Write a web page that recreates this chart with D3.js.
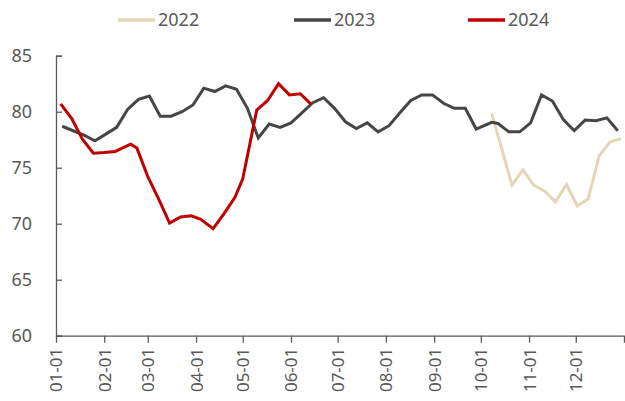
<!DOCTYPE html>
<html>
<head>
<meta charset="utf-8">
<script src="https://cdn.jsdelivr.net/npm/d3@7"></script>
<style>
  html, body { margin: 0; padding: 0; background: #fff; }
  svg { display: block; }
  text { font-family: "Noto Sans", "DejaVu Sans", sans-serif; fill: #595959; }
</style>
</head>
<body>
<svg id="chart" width="625" height="401"></svg>
<script>
// ---------- data ----------
const seriesNames = ["2022", "2023", "2024"];
const seriesColors = ["#E6D5B6", "#464646", "#C00000"];

const dates2022 = ["2022-10-08","2022-10-21","2022-10-28","2022-11-04","2022-11-11","2022-11-18","2022-11-25","2022-12-02","2022-12-09","2022-12-16","2022-12-23","2022-12-30"];
const values2022 = [79.85, 73.45, 74.8, 73.45, 72.9, 71.95, 73.5, 71.6, 72.2, 76.05, 77.3, 77.6];

const dates2023 = ["2023-01-05","2023-01-12","2023-01-19","2023-01-26","2023-02-02","2023-02-09","2023-02-16","2023-02-23","2023-03-02","2023-03-09","2023-03-16","2023-03-23","2023-03-30","2023-04-06","2023-04-13","2023-04-20","2023-04-27","2023-05-04","2023-05-11","2023-05-18","2023-05-25","2023-06-01","2023-06-08","2023-06-15","2023-06-22","2023-06-29","2023-07-06","2023-07-13","2023-07-20","2023-07-27","2023-08-03","2023-08-10","2023-08-17","2023-08-24","2023-08-31","2023-09-07","2023-09-14","2023-09-21","2023-09-28","2023-10-08","2023-10-12","2023-10-19","2023-10-26","2023-11-02","2023-11-09","2023-11-16","2023-11-23","2023-11-30","2023-12-07","2023-12-14","2023-12-21","2023-12-28"];
const values2023 = [78.7, 78.3, 77.9, 77.4, 78.0, 78.6, 80.2, 81.1, 81.4, 79.6, 79.6, 80.0, 80.6, 82.1, 81.8, 82.3, 82.0, 80.3, 77.65, 78.9, 78.6, 79.0, 79.9, 80.8, 81.25, 80.3, 79.1, 78.5, 79.0, 78.2, 78.75, 79.9, 81.0, 81.5, 81.5, 80.75, 80.3, 80.3, 78.45, 79.05, 78.95, 78.2, 78.2, 79.0, 81.5, 80.95, 79.3, 78.3, 79.25, 79.2, 79.45, 78.3];

const dates2024 = ["2024-01-04","2024-01-11","2024-01-18","2024-01-25","2024-02-01","2024-02-08","2024-02-18","2024-02-22","2024-02-29","2024-03-07","2024-03-14","2024-03-21","2024-03-28","2024-04-03","2024-04-11","2024-04-18","2024-04-25","2024-04-30","2024-05-09","2024-05-16","2024-05-23","2024-05-30","2024-06-06","2024-06-13"];
const values2024 = [80.7, 79.4, 77.55, 76.3, 76.35, 76.45, 77.1, 76.75, 74.2, 72.2, 70.05, 70.6, 70.7, 70.4, 69.55, 70.9, 72.35, 74.0, 80.15, 81.0, 82.5, 81.5, 81.6, 80.65];

const yTicks = [60, 65, 70, 75, 80, 85];
const xTickLabels = ["01-01","02-01","03-01","04-01","05-01","06-01","07-01","08-01","09-01","10-01","11-01","12-01"];

// ---------- layout ----------
const svg = d3.select("#chart");
const mLeft = 56, mRight = 624, mTop = 55.7, mBottom = 335.7;
const parse = d3.timeParse("%Y-%m-%d");
const baseStart = new Date(2023, 0, 1), baseEnd = new Date(2024, 0, 1);

// map any date to the same day-of-year position on a common year axis
function toBase(str) {
  const d = parse(str);
  const y0 = new Date(d.getFullYear(), 0, 1);
  const day = d3.timeDay.count(y0, d);
  return d3.timeDay.offset(baseStart, day);
}

const x = d3.scaleTime().domain([baseStart, baseEnd]).range([mLeft, mRight]);
const y = d3.scaleLinear().domain([60, 85]).range([mBottom, mTop]);

const series = [
  { name: seriesNames[0], color: seriesColors[0], pts: dates2022.map((d, i) => ({ d: toBase(d), v: values2022[i] })) },
  { name: seriesNames[1], color: seriesColors[1], pts: dates2023.map((d, i) => ({ d: toBase(d), v: values2023[i] })) },
  { name: seriesNames[2], color: seriesColors[2], pts: dates2024.map((d, i) => ({ d: toBase(d), v: values2024[i] })) }
];

// ---------- axes ----------
const yAxis = d3.axisLeft(y).tickValues(yTicks).tickSize(-6).tickPadding(24).tickFormat(d3.format("d"));
const gy = svg.append("g").attr("transform", `translate(${mLeft},0)`).call(yAxis);
gy.select(".domain").attr("stroke", "#595959").attr("stroke-width", 1.3);
gy.selectAll(".tick line").attr("stroke", "#595959").attr("stroke-width", 1.3);
gy.selectAll(".tick text").attr("font-size", 18).attr("fill", "#595959")
  .style("font-family", '"Noto Sans", sans-serif');

const monthTicks = d3.timeMonth.range(baseStart, d3.timeDay.offset(baseEnd, 1));
const xAxis = d3.axisBottom(x).tickValues(monthTicks).tickSize(7).tickSizeOuter(0)
  .tickFormat((d, i) => i < xTickLabels.length ? xTickLabels[i] : "");
const gx = svg.append("g").attr("transform", `translate(0,${mBottom})`).call(xAxis);
gx.select(".domain").attr("stroke", "#595959").attr("stroke-width", 1.3);
gx.selectAll(".tick line").attr("stroke", "#595959").attr("stroke-width", 1.3);
gx.selectAll(".tick text")
  .attr("font-size", 17).attr("fill", "#595959")
  .style("font-family", '"Noto Sans", sans-serif')
  .attr("text-anchor", "end")
  .attr("transform", "rotate(-90)")
  .attr("x", -12).attr("y", 0).attr("dy", "0.35em");

// ---------- lines ----------
const line = d3.line().x(p => x(p.d)).y(p => y(p.v));
svg.append("g").selectAll("path").data(series).join("path")
  .attr("fill", "none")
  .attr("stroke", s => s.color)
  .attr("stroke-width", 3)
  .attr("stroke-linejoin", "miter")
  .attr("d", s => line(s.pts));

// ---------- legend ----------
const legendX = [118, 294, 468];
const lg = svg.append("g").selectAll("g").data(series).join("g")
  .attr("transform", (s, i) => `translate(${legendX[i]},20)`);
lg.append("line").attr("x1", 0).attr("x2", 37).attr("y1", 0).attr("y2", 0)
  .attr("stroke", s => s.color).attr("stroke-width", 3.5);
lg.append("text").attr("x", 40).attr("y", 0).attr("dy", "0.35em")
  .attr("font-size", 18).text(s => s.name);
</script>
</body>
</html>
